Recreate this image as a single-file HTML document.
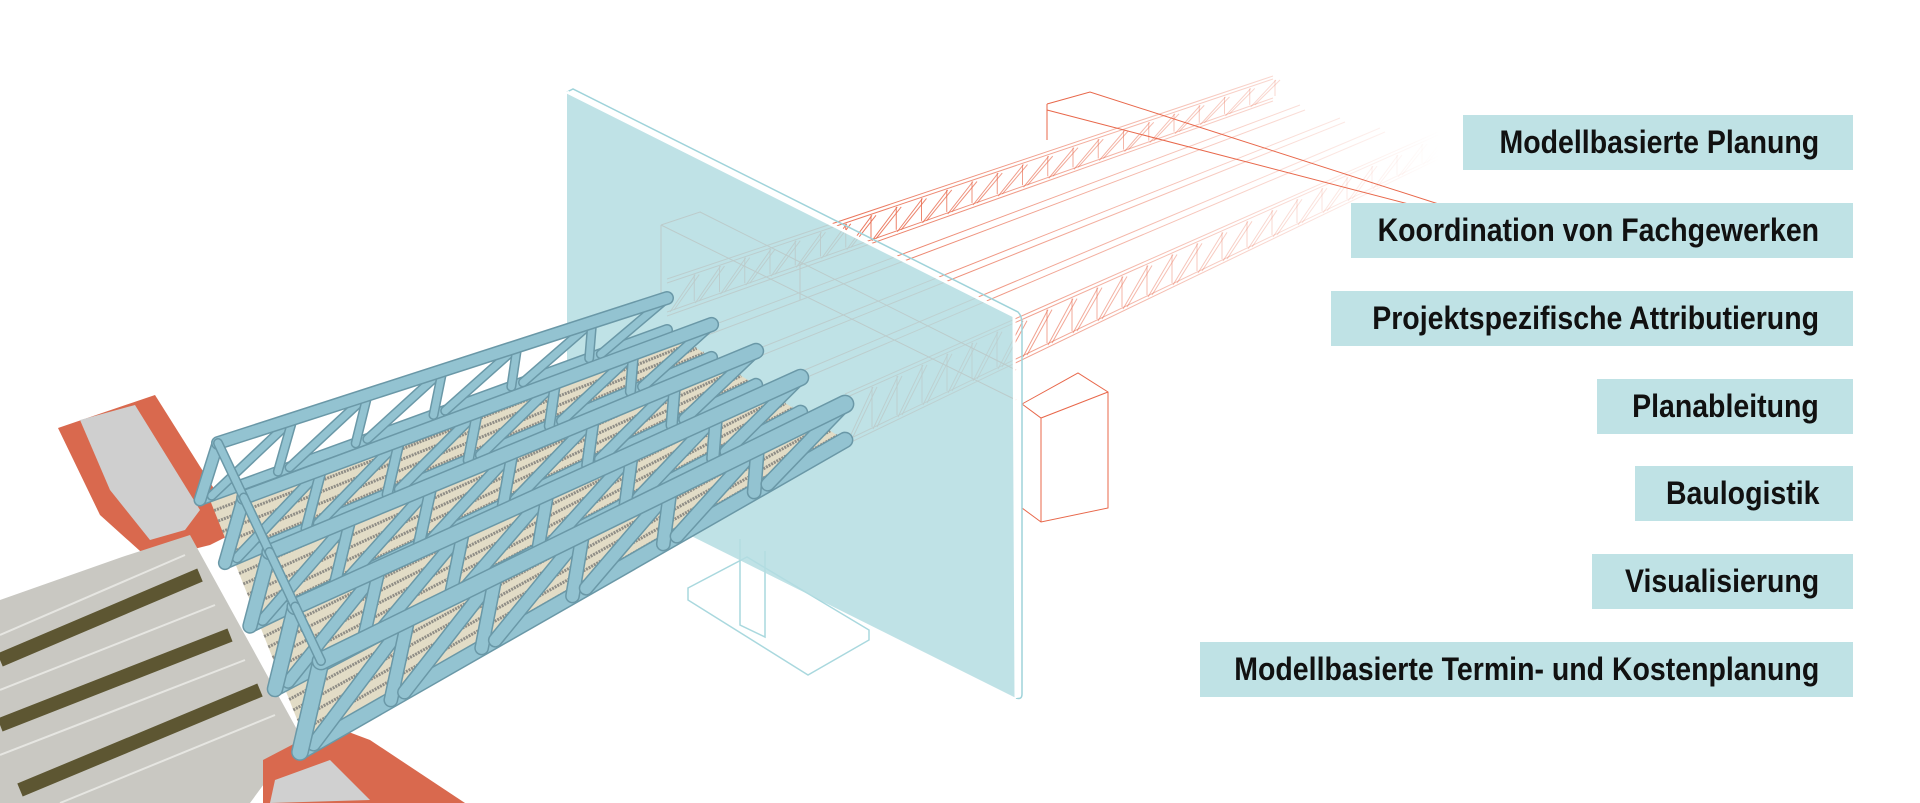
<!DOCTYPE html>
<html><head><meta charset="utf-8">
<style>
html,body{margin:0;padding:0;background:#fff;}
#wrap{position:relative;width:1920px;height:803px;overflow:hidden;background:#fff;}
svg{position:absolute;left:0;top:0;}
.lb{position:absolute;height:55px;background:#bfe2e5;box-sizing:border-box;}
.lb span{position:absolute;right:34px;top:0;line-height:55px;transform:scaleX(0.89);transform-origin:right center;
font-family:"Liberation Sans",sans-serif;font-weight:bold;font-size:32px;color:#111;white-space:nowrap;}
</style></head><body>
<div id="wrap">
<svg id="s" width="1920" height="803" viewBox="0 0 1920 803" xmlns="http://www.w3.org/2000/svg">
<defs>
<linearGradient id="fade" gradientUnits="userSpaceOnUse" x1="850" y1="0" x2="1440" y2="0">
<stop offset="0" stop-color="#e8674a" stop-opacity="0.9"/>
<stop offset="1" stop-color="#e8674a" stop-opacity="0"/>
</linearGradient>
</defs>
<g id="red" fill="none" stroke="#e8674a" stroke-width="1"></g>
<g fill="none" stroke="#a9d8de" stroke-width="1.5">
<path d="M740 539 L740 625 L765 637 L765 551"/>
<path d="M688 588 L747 557 L869 630 L869 640 L808 675 L688 600 Z"/>
</g>
<polygon points="567,92 1014,316 1016,698 567,474" fill="#b4dde2" fill-opacity="0.85"/>
<path d="M567 92 L573 89 L1018 312 Q1022 316 1022 324 L1022 694 Q1022 700 1016 698" fill="none" stroke="#9fd3da" stroke-width="1.5"/>
<path d="M567 92 L1014 316 L1016 698" fill="none" stroke="#fff" stroke-width="3"/>
<g>
<polygon points="58,428 155,395 240,530 210,545 150,560 100,515" fill="#d9694e"/>
<polygon points="80,420 135,405 200,510 185,530 150,540 110,490" fill="#cfcfcf"/>
<polygon points="0,600 122,557 190,535 300,735 250,803 0,803" fill="#c9c8c2"/>
<g stroke="#5d5632" stroke-width="14">
<line x1="0" y1="660" x2="200" y2="575"/>
<line x1="0" y1="725" x2="230" y2="635"/>
<line x1="20" y1="790" x2="260" y2="690"/>
</g>
<g stroke="#eeeeea" stroke-width="2" opacity="0.8">
<line x1="0" y1="635" x2="185" y2="555"/><line x1="0" y1="690" x2="215" y2="605"/>
<line x1="0" y1="755" x2="245" y2="660"/><line x1="60" y1="803" x2="275" y2="715"/>
</g>
<polygon points="263,760 330,725 370,740 465,803 263,803" fill="#d9694e"/>
<polygon points="275,780 330,760 370,800 270,803" fill="#d0d0d0"/>
</g>
<g id="blue"></g>
</svg>
<div class="lb" style="left:1463px;top:115px;width:390px;"><span>Modellbasierte Planung</span></div>
<div class="lb" style="left:1351px;top:203px;width:502px;"><span>Koordination von Fachgewerken</span></div>
<div class="lb" style="left:1331px;top:291px;width:522px;"><span>Projektspezifische Attributierung</span></div>
<div class="lb" style="left:1597px;top:379px;width:256px;"><span>Planableitung</span></div>
<div class="lb" style="left:1635px;top:466px;width:218px;"><span>Baulogistik</span></div>
<div class="lb" style="left:1592px;top:554px;width:261px;"><span>Visualisierung</span></div>
<div class="lb" style="left:1200px;top:642px;width:653px;"><span>Modellbasierte Termin- und Kostenplanung</span></div>
</div>
<script>
var NS="http://www.w3.org/2000/svg";
function el(p,t,a){var e=document.createElementNS(NS,t);for(var k in a)e.setAttribute(k,a[k]);p.appendChild(e);return e;}
function L(a,b,t){return [a[0]+(b[0]-a[0])*t,a[1]+(b[1]-a[1])*t];}
var red=document.getElementById('red');
function beam(tA,tB,bA,bB,n){
  var g=el(red,'g',{stroke:'url(#fade)'});
  [[tA,tB],[bA,bB]].forEach(function(p){
    el(g,'line',{x1:p[0][0],y1:p[0][1],x2:p[1][0],y2:p[1][1]});
    el(g,'line',{x1:p[0][0],y1:p[0][1]+4,x2:p[1][0],y2:p[1][1]+3});
  });
  for(var k=0;k<n;k++){
    var u=k/n,v=(k+1)/n;
    var a=L(bA,bB,u),b=L(tA,tB,v);
    el(g,'line',{x1:a[0]+3,y1:a[1],x2:b[0]+3,y2:b[1]+4});
    el(g,'line',{x1:a[0]+7,y1:a[1]-2,x2:b[0]+7,y2:b[1]+4});
    var c=L(bA,bB,v);
    el(g,'line',{x1:b[0]+2,y1:b[1]+4,x2:c[0]+2,y2:c[1]-2});
  }
}
beam([667,279],[1273,76],[667,312],[1273,98],24);
beam([845,394],[1445,129],[845,441],[1445,153],24);
var g2=el(red,'g',{stroke:'url(#fade)'});
[[700,330,1300,105],[705,336,1305,110],[755,350,1340,118],[760,356,1345,122],[800,372,1380,128],[805,378,1385,132]].forEach(function(a){
  el(g2,'line',{x1:a[0],y1:a[1],x2:a[2],y2:a[3]});});
el(red,'path',{d:'M661 225 L700 212 L800 262 L800 300 M661 225 L661 300 M661 225 L1016 400 M700 212 L1016 370'});
el(red,'path',{d:'M1022 404 L1078 373 L1108 392 L1108 508 L1041 522 L1022 508 Z M1022 404 L1041 418 L1108 392 M1041 418 L1041 522'});
el(red,'path',{d:'M1047 104 L1090 92 L1451 208 M1047 104 L1047 140 M1047 110 L1451 215 M1451 208 L1451 225'});
var blue=document.getElementById('blue');
var T0t=[[218,443],[667,298]],T4t=[[321,661],[845,404]];
var T0b=[[200,500],[667,330]],T4b=[[300,752],[845,440]];
var tr=[];
for(var i=0;i<5;i++){var t=i/4;
 tr.push({tl:L(T0t[0],T4t[0],t),tr:L(T0t[1],T4t[1],t),bl:L(T0b[0],T4b[0],t),br:L(T0b[1],T4b[1],t)});}
for(var i=0;i<4;i++){
 var a=tr[i],b=tr[i+1];
 var a0=[a.bl[0]+10,a.bl[1]],a1=a.br,b0=[b.bl[0]+10,b.bl[1]],b1=b.br;
 el(blue,'polygon',{points:[a0,a1,b1,b0].map(function(p){return p.join(',')}).join(' '),fill:'#e2dcc6'});
 for(var s=1;s<6;s++){var f=s/6;var p=L(a0,b0,f),q=L(a1,b1,f);
  el(blue,'line',{x1:p[0],y1:p[1],x2:q[0],y2:q[1],stroke:'#8f8d86','stroke-width':3,'stroke-dasharray':'2 1'});}
 var p=L(a0,b0,0.92),q=L(a1,b1,0.92);
 el(blue,'line',{x1:p[0],y1:p[1],x2:q[0],y2:q[1],stroke:'#111','stroke-width':5});
}
function mem(x1,y1,x2,y2,w){
 el(blue,'line',{x1:x1,y1:y1,x2:x2,y2:y2,stroke:'#6a98a7','stroke-width':w+3,'stroke-linecap':'round'});
 el(blue,'line',{x1:x1,y1:y1,x2:x2,y2:y2,stroke:'#93c3d1','stroke-width':w,'stroke-linecap':'round'});
}
for(var i=0;i<5;i++){
 var T=tr[i],N=6,w=9+i*1.2;
 mem(T.bl[0],T.bl[1],T.br[0],T.br[1],w);
 for(var k=0;k<N;k++){
  var u=k/N,v=(k+1)/N;
  var b1=L(T.bl,T.br,u),t2=L(T.tl,T.tr,v),t1=L(T.tl,T.tr,u),b2=L(T.bl,T.br,v);
  if(k>0) mem(b1[0],b1[1],t1[0],t1[1],w-2);
  mem(b1[0]+(b2[0]-b1[0])*0.15,b1[1]+(b2[1]-b1[1])*0.15,t2[0],t2[1],w-2);
 }
 mem(T.bl[0],T.bl[1],T.tl[0],T.tl[1],w+1);
 mem(T.tl[0],T.tl[1],T.tr[0],T.tr[1],w+2);
}
for(var i=0;i<4;i++){var p=tr[i].tl,q=tr[i+1].tl;mem(p[0],p[1],q[0],q[1],7);}
</script>
</body></html>
